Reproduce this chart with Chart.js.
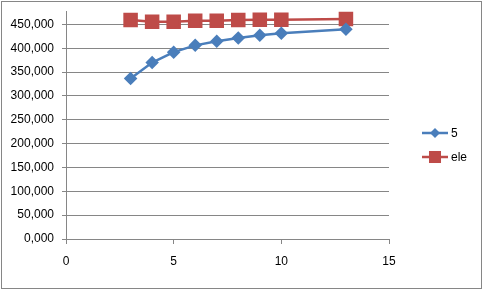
<!DOCTYPE html>
<html>
<head>
<meta charset="utf-8">
<script src="https://cdn.jsdelivr.net/npm/chart.js@4"></script>
<style>
  html, body { margin: 0; padding: 0; background: #fff; }
  #wrap { width: 483px; height: 291px; position: relative; }
</style>
</head>
<body>
<div id="wrap"><canvas id="chart"></canvas></div>
<script>
// valores
const xValues = [3, 4, 5, 6, 7, 8, 9, 10, 13];
const serie5 = [336700, 370000, 391700, 406000, 414500, 421500, 427000, 431500, 439800];
const serieEle = [459000, 455500, 455500, 457500, 457500, 459000, 459500, 459500, 461000];
const seriesNames = ['5', 'ele'];
const yTicks = [0, 50000, 100000, 150000, 200000, 250000, 300000, 350000, 400000, 450000];
const xTicks = [0, 5, 10, 15];

const FONT = { family: 'Liberation Sans, Arial, sans-serif', size: 12 };
const GRID = '#868686';

const toPoints = (ys) => ys.map((y, i) => ({ x: xValues[i], y: y }));

// moldura e legenda estilo Excel
const framePlugin = {
  id: 'frame',
  afterDraw(chart) {
    const ctx = chart.ctx;
    ctx.save();
    ctx.strokeStyle = GRID;
    ctx.lineWidth = 1;
    ctx.strokeRect(1.5, 1.5, 480, 287);

    chart.data.datasets.forEach((ds, i) => {
      const y = 133 + i * 24;
      ctx.strokeStyle = ds.borderColor;
      ctx.lineWidth = ds.borderWidth;
      ctx.beginPath();
      ctx.moveTo(422, y);
      ctx.lineTo(448, y);
      ctx.stroke();
      ctx.fillStyle = ds.pointBackgroundColor;
      const r = ds.pointRadius;
      if (ds.pointStyle === 'rect') {
        const s = Math.SQRT1_2 * r;
        ctx.fillRect(435 - s, y - s, 2 * s, 2 * s);
      } else {
        ctx.beginPath();
        ctx.moveTo(435, y - r);
        ctx.lineTo(435 + r, y);
        ctx.lineTo(435, y + r);
        ctx.lineTo(435 - r, y);
        ctx.closePath();
        ctx.fill();
      }
      ctx.fillStyle = '#000';
      ctx.font = FONT.size + 'px ' + FONT.family;
      ctx.textBaseline = 'middle';
      ctx.fillText(ds.label, 451, y + 1);
    });
    ctx.restore();
  }
};

new Chart(document.getElementById('chart'), {
  type: 'scatter',
  data: {
    datasets: [
      {
        label: seriesNames[0],
        data: toPoints(serie5),
        showLine: true,
        borderColor: '#4A7EBB',
        backgroundColor: '#4A7EBB',
        pointBackgroundColor: '#4A7EBB',
        pointBorderColor: '#4A7EBB',
        borderWidth: 2.5,
        pointStyle: 'rectRot',
        pointRadius: 5,
        pointHoverRadius: 5
      },
      {
        label: seriesNames[1],
        data: toPoints(serieEle),
        showLine: true,
        borderColor: '#BE4B48',
        backgroundColor: '#BE4B48',
        pointBackgroundColor: '#BE4B48',
        pointBorderColor: '#BE4B48',
        borderWidth: 2.5,
        pointStyle: 'rect',
        pointRadius: 8.5,
        pointHoverRadius: 8.5
      }
    ]
  },
  options: {
    responsive: true,
    maintainAspectRatio: false,
    animation: false,
    layout: { padding: { top: 10, right: 94, left: 0, bottom: 0 } },
    plugins: {
      legend: { display: false },
      tooltip: { enabled: false }
    },
    scales: {
      x: {
        type: 'linear',
        min: 0,
        max: 15,
        ticks: { color: '#000', font: FONT, padding: 10 },
        afterBuildTicks(scale) {
          scale.ticks = xTicks.map(v => ({ value: v }));
        },
        grid: { drawOnChartArea: false, drawTicks: true, tickLength: 5, color: GRID },
        border: { color: GRID },
        afterFit(scale) {
          scale.height = 52;
          scale.paddingLeft = 0;
          scale.paddingRight = 0;
        }
      },
      y: {
        min: 0,
        max: 478000,
        ticks: {
          color: '#000',
          font: FONT,
          padding: 8,
          autoSkip: false,
          callback: (v) => v === 0 ? '0,000' : v.toLocaleString('en-US')
        },
        afterBuildTicks(scale) {
          scale.ticks = yTicks.map(v => ({ value: v }));
        },
        grid: { color: GRID, tickLength: 4 },
        border: { color: GRID },
        afterFit(scale) {
          scale.width = 66;
          scale.paddingTop = 0;
          scale.paddingBottom = 0;
        }
      }
    }
  },
  plugins: [framePlugin]
});
</script>
</body>
</html>
